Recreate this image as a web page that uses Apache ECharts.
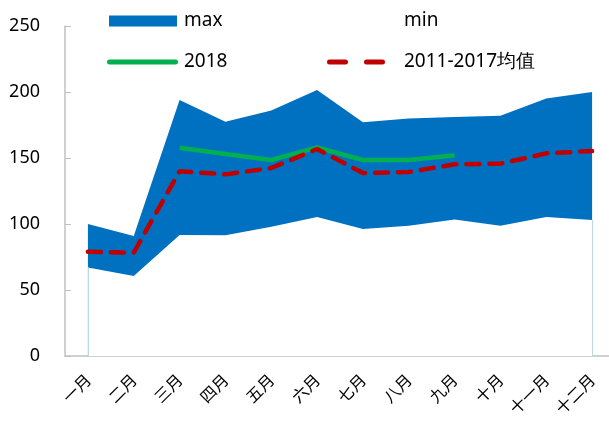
<!DOCTYPE html>
<html><head><meta charset="utf-8">
<script src="https://cdn.jsdelivr.net/npm/echarts@6/dist/echarts.min.js"></script>
<style>html,body{margin:0;padding:0;background:#fff}#c{width:609px;height:425px}</style>
</head><body><div id="c"></div>
<script>
const categories = ['一月','二月','三月','四月','五月','六月','七月','八月','九月','十月','十一月','十二月'];
const maxValues = [100, 91, 194, 177.5, 186, 201.5, 177, 180, 181, 182, 195, 200];
const minValues = [67, 60.6, 91.7, 91.4, 98, 105.3, 96.2, 98.7, 103.5, 98.7, 105.3, 103];
const y2018 = [null, null, 157.8, 153, 148.5, 158, 148.5, 148.5, 152, null, null, null];
const avg2011_2017 = [79, 78.3, 140, 137.6, 142.4, 156.8, 138.6, 139.4, 145.2, 145.7, 153.5, 155.3];
const yTicks = [0, 50, 100, 150, 200, 250];

const font = '"Noto Sans", sans-serif';
const chart = echarts.init(document.getElementById('c'));
const legendText = {fontSize: 19, color: '#000', fontFamily: font, lineHeight: 22};
const greenIcon = 'path://M2.5,0H68.5A2.5,2.5,0,0,1,68.5,5H2.5A2.5,2.5,0,0,1,2.5,0Z';
const redIcon = 'path://M2.5,0H18.5A2.5,2.5,0,0,1,18.5,5H2.5A2.5,2.5,0,0,1,2.5,0Z M39.5,0H55.5A2.5,2.5,0,0,1,55.5,5H39.5A2.5,2.5,0,0,1,39.5,0Z';
chart.setOption({
  animation: false,
  grid: {left: 65, top: 26, width: 550, height: 330, outerBoundsMode: 'none', containLabel: false},
  legend: [
    {data: [{name: 'max', icon: 'rect'}], left: 104, top: 5, itemWidth: 68, itemHeight: 11, textStyle: Object.assign({padding: [0, 0, 0, 2]}, legendText)},
    {data: [{name: 'min', icon: 'rect'}], left: 322, top: 5, itemWidth: 68, itemHeight: 11, textStyle: Object.assign({padding: [0, 0, 0, 4]}, legendText)},
    {data: [{name: '2018', icon: greenIcon}], left: 102, top: 46, itemWidth: 71, itemHeight: 5, textStyle: Object.assign({padding: [0, 0, 0, 1]}, legendText)},
    {data: [{name: '2011-2017均值', icon: redIcon}], left: 322, top: 46, itemWidth: 58, itemHeight: 5, textStyle: Object.assign({padding: [0, 0, 0, 14]}, legendText)}
  ],
  xAxis: {
    type: 'category', data: categories, boundaryGap: true,
    axisLine: {lineStyle: {color: '#d0d0d0', width: 2}},
    axisTick: {show: false},
    axisLabel: {rotate: 45, fontSize: 16, color: '#000', margin: 21, fontFamily: '"Noto Sans CJK SC", sans-serif', interval: 0}
  },
  yAxis: {
    type: 'value', min: yTicks[0], max: yTicks[yTicks.length - 1], interval: 50,
    axisLine: {show: true, lineStyle: {color: '#c0c0c0', width: 1.5}},
    axisTick: {show: true, inside: true, length: 6, lineStyle: {color: '#c0c0c0'}},
    splitLine: {show: false},
    axisLabel: {fontSize: 18, color: '#000', margin: 25, fontFamily: font}
  },
  series: [
    {name: 'max', type: 'line', data: maxValues, symbol: 'none', lineStyle: {width: 0},
     itemStyle: {color: '#0070C0'}, areaStyle: {color: '#0070C0', opacity: 1}, z: 1},
    {name: 'min', type: 'line', data: minValues, symbol: 'none', lineStyle: {width: 0},
     itemStyle: {color: '#ffffff'}, areaStyle: {color: '#ffffff', opacity: 1}, z: 2,
     markLine: {silent: true, symbol: 'none', label: {show: false},
       lineStyle: {color: '#bdd7ee', width: 1, type: 'solid'},
       data: [
         [{coord: [categories[0], 0]}, {coord: [categories[0], minValues[0]]}],
         [{coord: [categories[11], 0]}, {coord: [categories[11], minValues[11]]}]
       ]}},
    {name: '2018', type: 'line', data: y2018, symbol: 'none', connectNulls: false,
     lineStyle: {color: '#00B050', width: 4.5}, itemStyle: {color: '#00B050'}, z: 3},
    {name: '2011-2017均值', type: 'line', data: avg2011_2017, symbol: 'none',
     lineStyle: {color: '#C00000', width: 4.5, type: [13, 10], cap: 'round'}, itemStyle: {color: '#C00000'}, z: 4}
  ]
});
</script></body></html>
